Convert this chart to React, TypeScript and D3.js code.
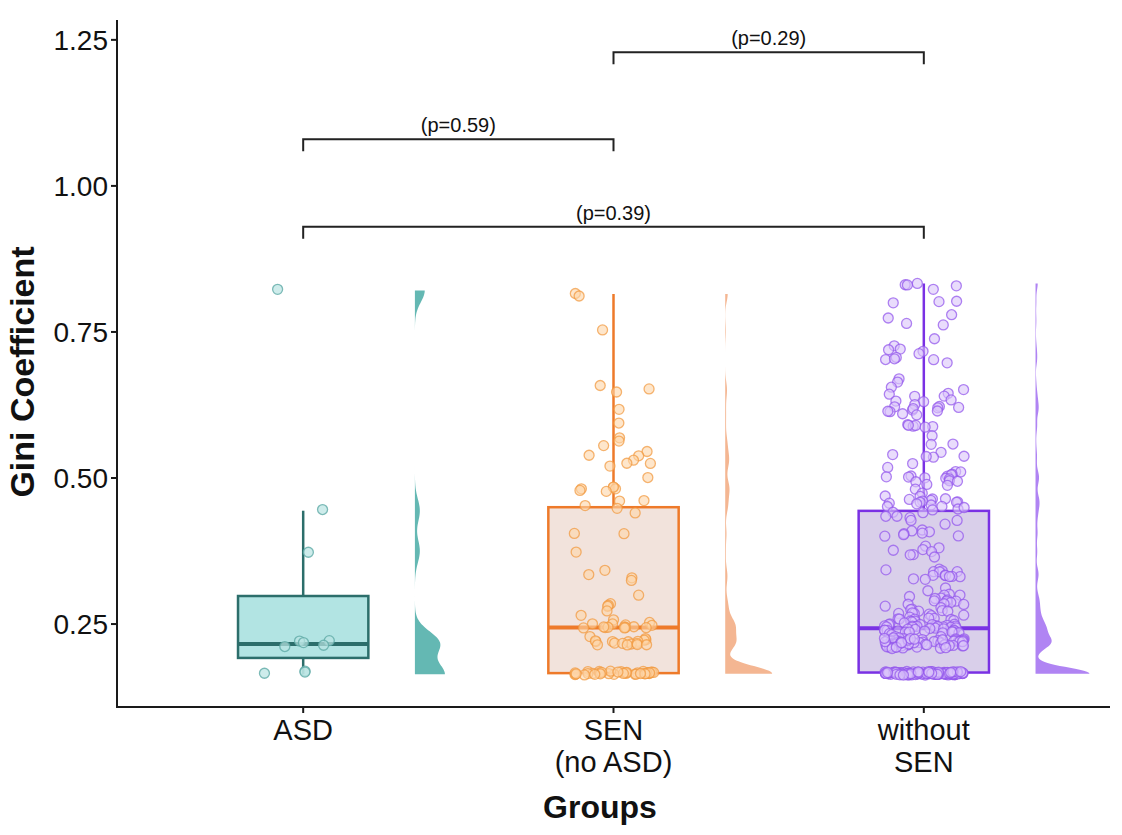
import React from 'react';
import * as d3 from 'd3';

// ---------------- DATA ----------------
const GROUPS = ['ASD', 'SEN (no ASD)', 'without SEN'];
const GROUP_LABEL_LINES = [['ASD'], ['SEN', '(no ASD)'], ['without', 'SEN']];

const ASD_VALUES = [0.821, 0.444, 0.375, 0.221, 0.213, 0.221, 0.215, 0.216, 0.171, 0.170, 0.164];

const SEN_VALUES = [
  0.815, 0.814, 0.752, 0.657, 0.650, 0.645, 0.618, 0.596, 0.569, 0.561, 0.556, 0.544, 0.538, 0.537, 0.529,
  0.526, 0.525, 0.523, 0.502, 0.486, 0.484, 0.483, 0.482, 0.481, 0.478, 0.463, 0.458, 0.455, 0.450,
  0.442, 0.406, 0.404, 0.373, 0.341, 0.336, 0.327, 0.325, 0.297, 0.286, 0.283, 0.278, 0.275, 0.264, 0.259,
  0.252, 0.251, 0.250, 0.249, 0.248, 0.247, 0.247, 0.246, 0.246, 0.245, 0.245, 0.244, 0.244, 0.243,
  0.226, 0.225, 0.224, 0.223, 0.222, 0.221, 0.220, 0.220, 0.219, 0.219, 0.218, 0.217, 0.216, 0.215, 0.214, 0.213, 0.212,
  0.166, 0.165, 0.167, 0.166, 0.166, 0.165, 0.167, 0.166, 0.165, 0.166, 0.167, 0.166, 0.165, 0.166, 0.167, 0.166,
  0.166, 0.165, 0.167, 0.166, 0.165, 0.166, 0.167, 0.166, 0.166, 0.165, 0.167, 0.166, 0.165, 0.166, 0.167, 0.166,
  0.166, 0.165, 0.167, 0.166, 0.166, 0.165,
];

const WITHOUT_VALUES = [
  // above the upper quartile
  0.833, 0.832, 0.830, 0.829, 0.821, 0.803, 0.801, 0.800, 0.779, 0.773, 0.766, 0.761, 0.740, 0.728, 0.722, 0.720,
  0.716, 0.711, 0.705, 0.704, 0.702, 0.700, 0.698, 0.671, 0.664, 0.656, 0.651, 0.644, 0.643, 0.642, 0.640, 0.633,
  0.632, 0.631, 0.628, 0.623, 0.622, 0.621, 0.620, 0.618, 0.617, 0.616, 0.615, 0.614, 0.612, 0.610, 0.593, 0.591,
  0.590, 0.589, 0.588, 0.586, 0.574, 0.560, 0.556, 0.543, 0.540, 0.538, 0.537, 0.535, 0.526, 0.520, 0.510, 0.508,
  0.507, 0.505, 0.504, 0.503, 0.502, 0.501, 0.500, 0.499, 0.498, 0.497, 0.496, 0.495, 0.489, 0.487, 0.480, 0.472,
  0.470, 0.469, 0.465, 0.464, 0.463, 0.462, 0.461, 0.460, 0.459, 0.458, 0.457, 0.456, 0.455, 0.452, 0.450, 0.448,
  0.447, 0.446,
  // inside the box
  0.443, 0.440, 0.436, 0.434, 0.432, 0.430, 0.428, 0.423,
  0.412, 0.409, 0.407, 0.406, 0.405, 0.404, 0.402, 0.400,
  0.385, 0.380, 0.378, 0.375, 0.372, 0.370, 0.368, 0.365,
  0.345, 0.343, 0.342, 0.340, 0.338, 0.337, 0.336, 0.335, 0.333, 0.332, 0.330, 0.329, 0.327, 0.325,
  0.312, 0.305, 0.303, 0.300, 0.298, 0.296, 0.295, 0.293, 0.292, 0.290, 0.289, 0.288, 0.287, 0.286, 0.285, 0.283, 0.282, 0.281,
  0.278, 0.276, 0.275, 0.274, 0.272, 0.271, 0.270, 0.268, 0.267, 0.266, 0.265, 0.264, 0.263, 0.262, 0.261, 0.260, 0.259, 0.258,
  // around the median
  0.256, 0.255, 0.254, 0.253, 0.252, 0.251, 0.250, 0.250, 0.249, 0.249, 0.248, 0.248, 0.247, 0.247, 0.246, 0.246,
  0.246, 0.245, 0.245, 0.245, 0.245, 0.244, 0.244, 0.243, 0.243, 0.242, 0.242, 0.241, 0.241, 0.240, 0.240, 0.239,
  0.239, 0.238, 0.238, 0.237, 0.237, 0.236, 0.236, 0.235, 0.235, 0.234, 0.234, 0.233,
  // row near 0.22
  0.228, 0.227, 0.226, 0.226, 0.225, 0.225, 0.224, 0.224, 0.223, 0.223, 0.223, 0.222, 0.222, 0.222, 0.221, 0.221,
  0.221, 0.220, 0.220, 0.220, 0.220, 0.219, 0.219, 0.219, 0.218, 0.218, 0.218, 0.217, 0.217, 0.217, 0.216, 0.216,
  0.216, 0.215, 0.215, 0.215, 0.214, 0.214, 0.214, 0.213, 0.213, 0.213, 0.212, 0.212, 0.211, 0.211, 0.210, 0.210,
  0.224, 0.222, 0.220, 0.218, 0.216, 0.214, 0.219, 0.221, 0.217, 0.223, 0.215, 0.225, 0.213, 0.227, 0.212, 0.226,
  0.211, 0.220,
  // floor
  0.166, 0.165, 0.167, 0.166, 0.166, 0.165, 0.167, 0.166, 0.165, 0.166, 0.167, 0.166, 0.165, 0.166, 0.167, 0.166,
  0.166, 0.165, 0.167, 0.166, 0.165, 0.166, 0.167, 0.166, 0.166, 0.165, 0.167, 0.166, 0.165, 0.166, 0.167, 0.166,
  0.166, 0.165, 0.167, 0.166, 0.166, 0.165, 0.167, 0.166, 0.165, 0.166, 0.167, 0.166, 0.165, 0.166, 0.167, 0.166,
  0.166, 0.165, 0.167, 0.166, 0.165, 0.166, 0.167, 0.166, 0.166, 0.165, 0.167, 0.166, 0.165, 0.166, 0.167, 0.166,
  0.166, 0.165, 0.167, 0.166, 0.166, 0.165, 0.167, 0.166, 0.165, 0.166, 0.167, 0.166, 0.165, 0.166, 0.167, 0.166,
  0.166, 0.165, 0.167, 0.166, 0.165, 0.166, 0.167, 0.166, 0.166, 0.165, 0.167, 0.166, 0.165, 0.166, 0.167, 0.166,
  0.166, 0.165, 0.167, 0.166, 0.166, 0.165, 0.167, 0.166, 0.165, 0.166, 0.167, 0.166, 0.165, 0.166,
];

const GROUP_VALUES = [ASD_VALUES, SEN_VALUES, WITHOUT_VALUES];

const Y_TICKS = [0.25, 0.5, 0.75, 1.0, 1.25];

const COMPARISON_FROM = [0, 1, 0];
const COMPARISON_TO = [1, 2, 2];
const COMPARISON_Y = [1.08, 1.229, 0.93];
const COMPARISON_LABELS = ['(p=0.59)', '(p=0.29)', '(p=0.39)'];

// ---------------- STYLE ----------------
const W = 1122;
const H = 835;
const PANEL = { left: 117, right: 1110, top: 20, bottom: 707 };
const Y_DOMAIN = [0.108, 1.284];
const FONT = '"Liberation Sans", Arial, Helvetica, sans-serif';

const BOX_FILL = ['#b2e4e3', '#f2e3dc', '#d9cfea'];
const BOX_STROKE = ['#2c6e6b', '#ee7a2a', '#7a31e4'];
const PT_FILL = ['rgba(185,228,226,0.7)', 'rgba(253,214,168,0.6)', 'rgba(218,196,250,0.6)'];
const PT_STROKE = ['rgba(95,170,166,0.8)', 'rgba(241,152,62,0.72)', 'rgba(145,85,235,0.72)'];
const DENS_FILL = ['#64b8b3', '#f4b692', '#b084f3'];
const DENS_BW = [0.02, 0.013, 0.0105];
const DENS_MAXW = [30, 47, 54];

function hash(i: number, seed: number) {
  const s = Math.sin(i * 12.9898 + seed * 78.233) * 43758.5453;
  return s - Math.floor(s);
}

function boxStats(values: number[]) {
  const s = [...values].sort(d3.ascending);
  const q1 = d3.quantileSorted(s, 0.25)!;
  const med = d3.quantileSorted(s, 0.5)!;
  const q3 = d3.quantileSorted(s, 0.75)!;
  const iqr = q3 - q1;
  const lo = d3.min(s.filter((v) => v >= q1 - 1.5 * iqr))!;
  const hi = d3.max(s.filter((v) => v <= q3 + 1.5 * iqr))!;
  return { q1, med, q3, lo, hi };
}

// bounded kernel density (reflection at both data limits)
function kde(values: number[], bw: number) {
  const lo = d3.min(values)!;
  const hi = d3.max(values)!;
  const n = 400;
  const k = (u: number) => Math.exp(-0.5 * u * u);
  return d3.range(n + 1).map((i) => {
    const v = lo + ((hi - lo) * i) / n;
    const d =
      d3.mean(values, (x) => k((v - x) / bw) + k((v - (2 * lo - x)) / bw) + k((v - (2 * hi - x)) / bw))! /
      (bw * Math.sqrt(2 * Math.PI));
    return [v, d] as [number, number];
  });
}

export default function App() {
  const x = d3.scalePoint<string>().domain(GROUPS).range([PANEL.left, PANEL.right]).padding(0.6);
  const y = d3.scaleLinear().domain(Y_DOMAIN).range([PANEL.bottom, PANEL.top]);
  const step = x.step();
  const boxHalf = step * 0.21;
  const densOffset = step * 0.36;
  const jitterHalf = step * 0.13;

  return (
    <svg width={W} height={H} style={{ position: 'absolute', left: 0, top: 0, background: '#fff' }} fontFamily={FONT}>
      {/* densities */}
      {GROUPS.map((g, gi) => {
        const dens = kde(GROUP_VALUES[gi], DENS_BW[gi]);
        const peak = d3.max(dens, (d) => d[1])!;
        const base = x(g)! + densOffset;
        const area = d3
          .area<[number, number]>()
          .y((d) => y(d[0]))
          .x0(base)
          .x1((d) => base + (d[1] / peak) * DENS_MAXW[gi]);
        return <path key={'d' + gi} d={area(dens)!} fill={DENS_FILL[gi]} />;
      })}

      {/* boxes */}
      {GROUPS.map((g, gi) => {
        const st = boxStats(GROUP_VALUES[gi]);
        const cx = x(g)!;
        return (
          <g key={'b' + gi} stroke={BOX_STROKE[gi]}>
            <line x1={cx} x2={cx} y1={y(st.q3)} y2={y(st.hi)} strokeWidth={2.5} />
            <line x1={cx} x2={cx} y1={y(st.q1)} y2={y(st.lo)} strokeWidth={2.5} />
            <rect
              x={cx - boxHalf}
              y={y(st.q3)}
              width={boxHalf * 2}
              height={y(st.q1) - y(st.q3)}
              fill={BOX_FILL[gi]}
              strokeWidth={2.5}
            />
            <line x1={cx - boxHalf} x2={cx + boxHalf} y1={y(st.med)} y2={y(st.med)} strokeWidth={4} />
          </g>
        );
      })}

      {/* jittered points */}
      {GROUPS.map((g, gi) => (
        <g key={'p' + gi}>
          {GROUP_VALUES[gi].map((v, i) => (
            <circle
              key={i}
              cx={x(g)! + (hash(i, gi + 1) - 0.5) * 2 * jitterHalf}
              cy={y(v) + (hash(i, gi + 7) - 0.5) * 3}
              r={5}
              fill={PT_FILL[gi]}
              stroke={PT_STROKE[gi]}
              strokeWidth={1.3}
            />
          ))}
        </g>
      ))}

      {/* comparison brackets */}
      {COMPARISON_LABELS.map((lab, ci) => {
        const x1 = x(GROUPS[COMPARISON_FROM[ci]])!;
        const x2 = x(GROUPS[COMPARISON_TO[ci]])!;
        const yy = y(COMPARISON_Y[ci]);
        return (
          <g key={'c' + ci}>
            <path d={`M${x1},${yy + 12}V${yy}H${x2}V${yy + 12}`} fill="none" stroke="#222" strokeWidth={2} />
            <text x={(x1 + x2) / 2} y={yy - 7} textAnchor="middle" fontSize={20} fill="#111">
              {lab}
            </text>
          </g>
        );
      })}

      {/* axes */}
      <line x1={PANEL.left} x2={PANEL.left} y1={PANEL.top} y2={PANEL.bottom + 1} stroke="#1a1a1a" strokeWidth={2} />
      <line x1={PANEL.left - 1} x2={PANEL.right} y1={PANEL.bottom} y2={PANEL.bottom} stroke="#1a1a1a" strokeWidth={2} />
      {Y_TICKS.map((t) => (
        <g key={'yt' + t}>
          <line x1={PANEL.left - 6} x2={PANEL.left} y1={y(t)} y2={y(t)} stroke="#1a1a1a" strokeWidth={2} />
          <text x={PANEL.left - 9} y={y(t)} dy="0.36em" textAnchor="end" fontSize={28} fill="#111">
            {d3.format('.2f')(t)}
          </text>
        </g>
      ))}
      {GROUPS.map((g, gi) => (
        <g key={'xt' + gi}>
          <line x1={x(g)!} x2={x(g)!} y1={PANEL.bottom} y2={PANEL.bottom + 6} stroke="#1a1a1a" strokeWidth={2} />
          {GROUP_LABEL_LINES[gi].map((ln, li) => (
            <text key={li} x={x(g)!} y={PANEL.bottom + 33 + li * 32} textAnchor="middle" fontSize={29} fill="#111">
              {ln}
            </text>
          ))}
        </g>
      ))}

      {/* axis titles */}
      <text x={600} y={818} textAnchor="middle" fontSize={32} fontWeight="bold" fill="#111">
        Groups
      </text>
      <text
        transform={`translate(34,${372}) rotate(-90)`}
        textAnchor="middle"
        fontSize={34}
        fontWeight="bold"
        fill="#111"
      >
        Gini Coefficient
      </text>
    </svg>
  );
}
